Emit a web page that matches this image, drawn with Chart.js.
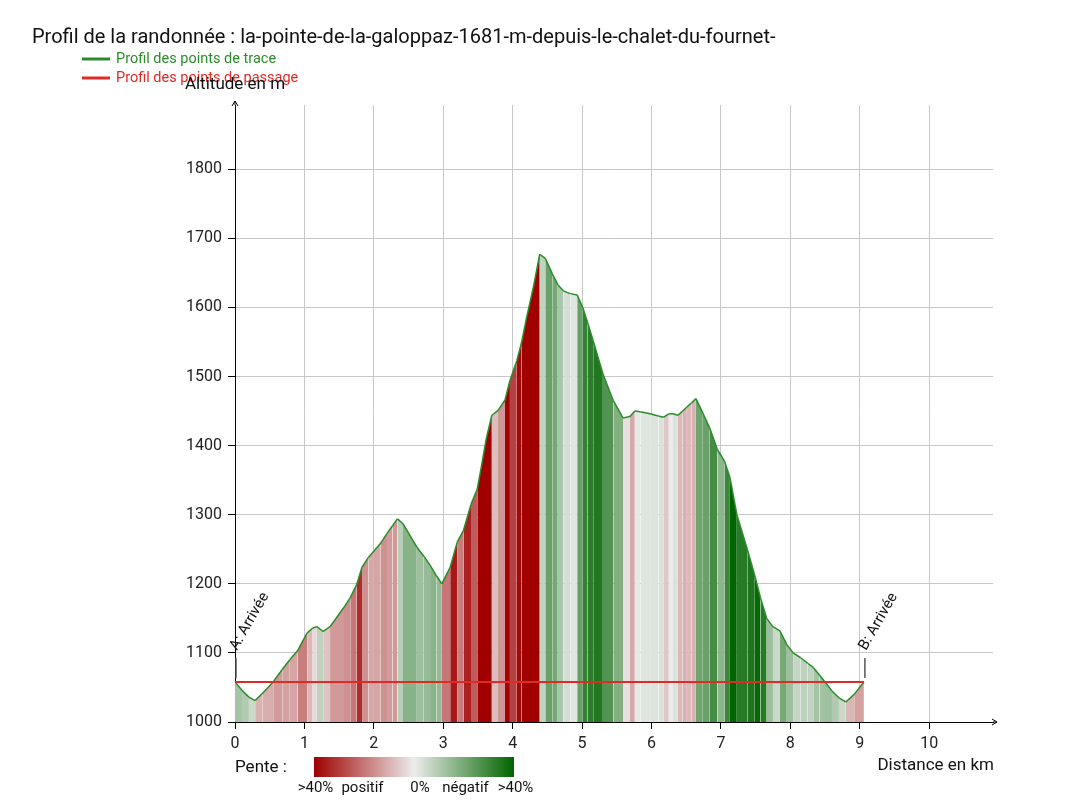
<!DOCTYPE html>
<html>
<head>
<meta charset="utf-8">
<script src="https://cdn.jsdelivr.net/npm/chart.js@4.4.1/dist/chart.umd.min.js"></script>
<style>
  html, body { margin: 0; padding: 0; background: #fff; }
  #wrap { position: relative; width: 1065px; height: 811px; }
</style>
</head>
<body>
<div id="wrap"><canvas id="profil"></canvas></div>
<script>
const titre = 'Profil de la randonnée : la-pointe-de-la-galoppaz-1681-m-depuis-le-chalet-du-fournet-';

// trace (km / m)
const distances = [
  0.00, 0.10, 0.20, 0.29, 0.40, 0.55, 0.68, 0.79, 0.90, 1.04,
  1.12, 1.18, 1.27, 1.37, 1.47, 1.57, 1.66, 1.75, 1.83, 1.92,
  1.99, 2.10, 2.19, 2.27, 2.34, 2.42, 2.52, 2.62, 2.72, 2.81,
  2.90, 2.98, 3.05, 3.10, 3.20, 3.29, 3.40, 3.49, 3.55, 3.62,
  3.70, 3.79, 3.89, 3.96, 4.06, 4.13, 4.20, 4.30, 4.39, 4.47,
  4.57, 4.65, 4.73, 4.83, 4.93, 5.01, 5.08, 5.16, 5.30, 5.45,
  5.59, 5.69, 5.76, 5.84, 5.98, 6.10, 6.17, 6.25, 6.31, 6.38,
  6.45, 6.51, 6.58, 6.64, 6.74, 6.84, 6.95, 7.05, 7.13, 7.23,
  7.38, 7.48, 7.57, 7.66, 7.75, 7.85, 7.95, 8.04, 8.15, 8.25,
  8.33, 8.42, 8.50, 8.60, 8.70, 8.80, 8.92, 9.06
];
const altitudes = [
  1058, 1046, 1036, 1031, 1042, 1058, 1076, 1090, 1103, 1129,
  1136, 1138, 1131, 1138, 1152, 1166, 1180, 1198, 1224, 1238,
  1246, 1259, 1273, 1284, 1294, 1287, 1270, 1253, 1240, 1227,
  1212, 1200, 1214, 1224, 1260, 1277, 1315, 1337, 1370, 1410,
  1444, 1451, 1466, 1494, 1523, 1550, 1585, 1630, 1677, 1671,
  1649, 1633, 1624, 1620, 1618, 1600, 1578, 1552, 1504, 1465,
  1440, 1442, 1450, 1449, 1446, 1443, 1441, 1446, 1446, 1444,
  1450, 1456, 1462, 1468, 1447, 1425, 1394, 1378, 1354, 1300,
  1250, 1215, 1180, 1150, 1138, 1132, 1112, 1100, 1093, 1085,
  1079, 1068, 1058, 1045, 1035, 1029, 1040, 1058
];

// points de passage
const passageDist = [0, 9.06];
const passageAlt = [1058, 1058];
const passageLabels = ['A: Arrivée', 'B: Arrivée'];

const xTicks = [0, 1, 2, 3, 4, 5, 6, 7, 8, 9, 10];
const yTicks = [1000, 1100, 1200, 1300, 1400, 1500, 1600, 1700, 1800];
const penteLabels = ['>40%', 'positif', '0%', 'négatif', '>40%'];

const ROUGE = [160, 0, 0], NEUTRE = [236, 236, 236], VERT = [0, 100, 0];

function mix(a, b, t) {
  return 'rgb(' + a.map((v, i) => Math.round(v + (b[i] - v) * t)).join(',') + ')';
}

function couleurPente(p0, p1) {
  const dx = (p1.x - p0.x) * 1000;
  const pente = dx > 0 ? (p1.y - p0.y) / dx : 0;
  const t = Math.min(1, Math.abs(pente) / 0.4);
  return mix(NEUTRE, pente >= 0 ? ROUGE : VERT, t);
}

const police = 'Roboto, "Noto Sans", sans-serif';

const decor = {
  id: 'decor',
  afterDraw(chart) {
    const { ctx, chartArea: ca, scales: { x, y } } = chart;
    ctx.save();

    // titre
    ctx.fillStyle = '#111';
    ctx.font = '20px ' + police;
    ctx.textBaseline = 'middle';
    ctx.textAlign = 'left';
    ctx.fillText(titre, 32, 38);

    // légende
    const leg = [
      [chart.data.datasets[0].label, '#2a8c2a', 59],
      [chart.data.datasets[1].label, '#e02a25', 78]
    ];
    ctx.font = '14.5px ' + police;
    leg.forEach(([txt, col, ly]) => {
      ctx.strokeStyle = col;
      ctx.lineWidth = 3;
      ctx.beginPath();
      ctx.moveTo(82, ly);
      ctx.lineTo(110, ly);
      ctx.stroke();
      ctx.fillStyle = col;
      ctx.fillText(txt, 116, ly);
    });

    // titres des axes
    ctx.fillStyle = '#111';
    ctx.font = '17px ' + police;
    ctx.textAlign = 'center';
    ctx.fillText('Altitude en m', ca.left, 85);
    ctx.textAlign = 'right';
    ctx.fillText('Distance en km', ca.right + 1, 766);

    // flèches
    ctx.strokeStyle = '#000';
    ctx.lineWidth = 1;
    ctx.beginPath();
    ctx.moveTo(ca.left, ca.top);
    ctx.lineTo(ca.left, ca.top - 4);
    ctx.moveTo(ca.left - 3, ca.top + 1);
    ctx.lineTo(ca.left, ca.top - 4);
    ctx.lineTo(ca.left + 3, ca.top + 1);
    ctx.moveTo(ca.right, ca.bottom);
    ctx.lineTo(ca.right + 4, ca.bottom);
    ctx.moveTo(ca.right - 1, ca.bottom - 3);
    ctx.lineTo(ca.right + 4, ca.bottom);
    ctx.lineTo(ca.right - 1, ca.bottom + 3);
    ctx.stroke();

    // repères des points de passage
    passageDist.forEach((d, i) => {
      const px = x.getPixelForValue(d);
      const py = y.getPixelForValue(passageAlt[i]);
      ctx.strokeStyle = '#555';
      ctx.lineWidth = 1.5;
      ctx.beginPath();
      ctx.moveTo(px + 1, py - 4);
      ctx.lineTo(px + 1, py - 24);
      ctx.stroke();
      ctx.save();
      ctx.translate(px + 2, py - 31);
      ctx.rotate(-Math.PI / 3);
      ctx.fillStyle = '#111';
      ctx.font = '15px ' + police;
      ctx.textAlign = 'left';
      ctx.textBaseline = 'alphabetic';
      ctx.fillText(passageLabels[i], 0, 0);
      ctx.restore();
    });

    // échelle des pentes
    const bx = ca.left + 79, bw = 200, by = 757, bh = 20;
    const g = ctx.createLinearGradient(bx, 0, bx + bw, 0);
    g.addColorStop(0, mix(ROUGE, ROUGE, 0));
    g.addColorStop(0.5, mix(NEUTRE, NEUTRE, 0));
    g.addColorStop(1, mix(VERT, VERT, 0));
    ctx.fillStyle = g;
    ctx.fillRect(bx, by, bw, bh);
    ctx.fillStyle = '#111';
    ctx.font = '17px ' + police;
    ctx.textAlign = 'left';
    ctx.textBaseline = 'middle';
    ctx.fillText('Pente :', ca.left, 768);
    ctx.font = '15px ' + police;
    ctx.textAlign = 'center';
    const lx = [bx + 1.5, bx + 48.5, bx + 106, bx + 151.5, bx + 201.5];
    penteLabels.forEach((t, i) => ctx.fillText(t, lx[i], 788));

    ctx.restore();
  }
};

new Chart(document.getElementById('profil'), {
  type: 'line',
  data: {
    datasets: [
      {
        label: 'Profil des points de trace',
        data: distances.map((d, i) => ({ x: d, y: altitudes[i] })),
        borderColor: '#2a8c2a',
        borderWidth: 1.5,
        pointRadius: 0,
        tension: 0,
        fill: 'start',
        backgroundColor: 'rgb(236,236,236)',
        segment: { backgroundColor: c => couleurPente(c.p0.parsed, c.p1.parsed) },
        order: 2
      },
      {
        label: 'Profil des points de passage',
        data: passageDist.map((d, i) => ({ x: d, y: passageAlt[i] })),
        borderColor: '#e02a25',
        borderWidth: 2,
        pointRadius: 0,
        fill: false,
        order: 1
      }
    ]
  },
  options: {
    responsive: true,
    maintainAspectRatio: false,
    animation: false,
    layout: { padding: { left: 175, top: 105, right: 72, bottom: 44 } },
    plugins: {
      legend: { display: false },
      title: { display: false },
      tooltip: { enabled: false }
    },
    scales: {
      x: {
        type: 'linear',
        min: 0,
        max: 10.92,
        afterBuildTicks: s => { s.ticks = xTicks.map(v => ({ value: v })); },
        afterFit: s => { s.height = 45; },
        grid: { color: '#c8c8c8', tickColor: '#000', tickLength: 7 },
        border: { color: '#000', width: 1 },
        ticks: { color: '#222', font: { family: police, size: 16 }, padding: 5, maxRotation: 0, callback: v => String(v) }
      },
      y: {
        type: 'linear',
        min: 1000,
        max: 1893,
        afterBuildTicks: s => { s.ticks = yTicks.map(v => ({ value: v })); },
        afterFit: s => { s.width = 60; },
        grid: { color: '#c8c8c8', tickColor: '#000', tickLength: 7 },
        border: { color: '#000', width: 1 },
        ticks: { color: '#222', font: { family: police, size: 16 }, padding: 6, callback: v => String(v) }
      }
    }
  },
  plugins: [decor]
});
</script>
</body>
</html>
